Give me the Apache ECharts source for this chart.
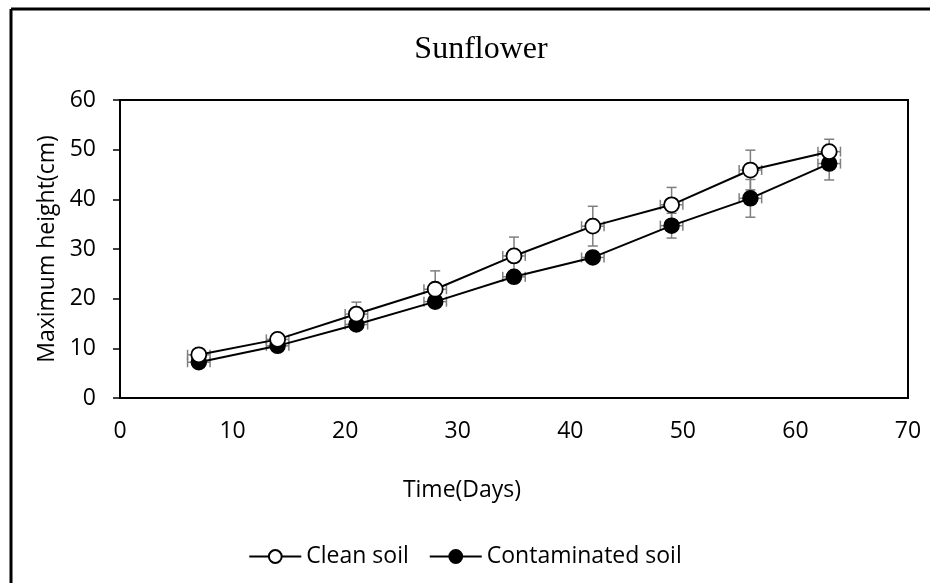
<!DOCTYPE html>
<html>
<head>
<meta charset="utf-8">
<script src="https://cdn.jsdelivr.net/npm/echarts@6/dist/echarts.min.js"></script>
<style>
html, body { margin: 0; padding: 0; background: #fff; }
#main { width: 930px; height: 583px; }
</style>
</head>
<body>
<div id="main"></div>
<script>
// data
var days = [7, 14, 21, 28, 35, 42, 49, 56, 63];
var cleanSoil = [8.7, 11.8, 16.9, 21.9, 28.6, 34.6, 38.9, 45.9, 49.6];
var contaminatedSoil = [7.2, 10.5, 14.8, 19.4, 24.4, 28.3, 34.7, 40.2, 47.2];
var cleanErr = [1.0, 0.8, 2.4, 3.7, 3.8, 4.0, 3.5, 4.0, 2.5];
var contamErr = [1.0, 1.0, 1.0, 1.0, 1.0, 0.8, 2.5, 3.8, 3.3];
var dayErr = [1, 1, 1, 1, 1, 1, 1, 1, 1];
var xTicks = [0, 10, 20, 30, 40, 50, 60, 70];
var yTicks = [0, 10, 20, 30, 40, 50, 60];

var dom = document.getElementById("main");
var myChart = echarts.init(dom);

function pairs(ys) {
    var out = [];
    for (var i = 0; i < days.length; i++) out.push([days[i], ys[i]]);
    return out;
}
function errData(ys, errs) {
    var out = [];
    for (var i = 0; i < days.length; i++) out.push([days[i], ys[i], dayErr[i], errs[i]]);
    return out;
}

// error bars, both directions, with caps
function renderErr(params, api) {
    var x = api.value(0), y = api.value(1), ex = api.value(2), ey = api.value(3);
    var top = api.coord([x, y + ey]);
    var bot = api.coord([x, y - ey]);
    var lft = api.coord([x - ex, y]);
    var rgt = api.coord([x + ex, y]);
    var c = 5;
    var st = { stroke: '#7f7f7f', lineWidth: 1.5 };
    var seg = function (x1, y1, x2, y2) {
        return { type: 'line', shape: { x1: x1, y1: y1, x2: x2, y2: y2 }, style: st };
    };
    return {
        type: 'group',
        children: [
            seg(top[0], top[1], bot[0], bot[1]),
            seg(top[0] - c, top[1], top[0] + c, top[1]),
            seg(bot[0] - c, bot[1], bot[0] + c, bot[1]),
            seg(lft[0], lft[1], rgt[0], rgt[1]),
            seg(lft[0], lft[1] - c, lft[0], lft[1] + c),
            seg(rgt[0], rgt[1] - c, rgt[0], rgt[1] + c)
        ]
    };
}

var labelFont = { fontFamily: 'Open Sans', fontSize: 23, color: '#000' };

var option = {
    animation: false,
    backgroundColor: '#fff',
    title: {
        text: 'Sunflower',
        left: 476,
        textAlign: 'center',
        top: 29,
        textStyle: { fontFamily: 'Liberation Serif', fontSize: 32, fontWeight: 'normal', color: '#000' }
    },
    legend: {
        data: ['Clean soil', 'Contaminated soil'],
        left: 'center',
        top: 540,
        itemWidth: 52,
        itemHeight: 16,
        itemGap: 20,
        textStyle: labelFont
    },
    grid: {
        left: 120,
        right: 22,
        top: 100,
        bottom: 185,
        show: true,
        borderColor: '#000',
        borderWidth: 2
    },
    graphic: [
        { type: 'line', shape: { x1: 11, y1: 9, x2: 930, y2: 9 }, style: { stroke: '#000', lineWidth: 3 } },
        { type: 'line', shape: { x1: 11, y1: 9, x2: 11, y2: 583 }, style: { stroke: '#000', lineWidth: 3 } },
        { type: 'text', x: 462, y: 490, style: { text: 'Time(Days)', fontFamily: 'Open Sans', fontSize: 23, fill: '#000', textAlign: 'center', textVerticalAlign: 'middle' } }
    ],
    xAxis: {
        type: 'value',
        min: xTicks[0],
        max: xTicks[xTicks.length - 1],
        interval: 10,
        splitLine: { show: false },
        axisLine: { lineStyle: { color: '#000', width: 2 } },
        axisTick: { show: false },
        axisLabel: Object.assign({ margin: 22 }, labelFont)
    },
    yAxis: {
        type: 'value',
        min: yTicks[0],
        max: yTicks[yTicks.length - 1],
        interval: 10,
        name: 'Maximum height(cm)',
        nameLocation: 'middle',
        nameGap: 58,
        nameTextStyle: labelFont,
        splitLine: { show: false },
        axisLine: { show: true, lineStyle: { color: '#000', width: 2 } },
        axisTick: { show: true, length: 7, lineStyle: { color: '#000', width: 1.5 } },
        axisLabel: Object.assign({ margin: 24 }, labelFont)
    },
    series: [
        {
            name: 'errClean',
            type: 'custom',
            renderItem: renderErr,
            encode: { x: 0, y: 1 },
            data: errData(cleanSoil, cleanErr),
            z: 1
        },
        {
            name: 'errContam',
            type: 'custom',
            renderItem: renderErr,
            encode: { x: 0, y: 1 },
            data: errData(contaminatedSoil, contamErr),
            z: 1
        },
        {
            name: 'Contaminated soil',
            type: 'line',
            data: pairs(contaminatedSoil),
            symbol: 'circle',
            symbolSize: 15,
            lineStyle: { color: '#000', width: 2 },
            itemStyle: { color: '#000', borderColor: '#000', borderWidth: 1.5 },
            z: 3
        },
        {
            name: 'Clean soil',
            type: 'line',
            data: pairs(cleanSoil),
            symbol: 'circle',
            symbolSize: 15,
            showAllSymbol: true,
            lineStyle: { color: '#000', width: 2 },
            itemStyle: { color: '#fff', borderColor: '#000', borderWidth: 1.8 },
            z: 3
        }
    ]
};

if (option && typeof option === "object") {
    myChart.setOption(option, true);
}
</script>
</body>
</html>
